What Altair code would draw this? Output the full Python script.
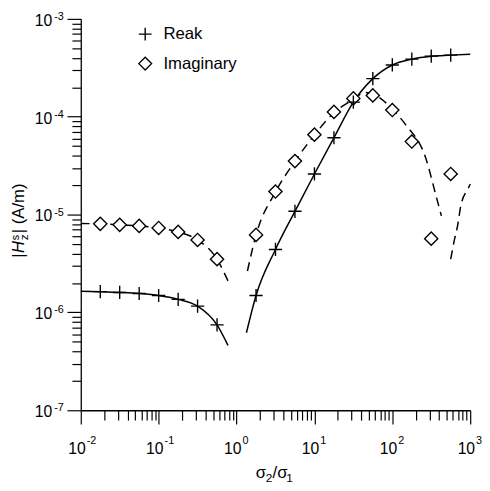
import altair as alt
import pandas as pd

FONT = "Liberation Sans"

# ---------------- data ----------------
# marker positions (sigma2/sigma1) and |Hz| values
real_low_x = [0.0178, 0.0316, 0.0562, 0.1, 0.178, 0.316, 0.562]
real_low_y = [1.63e-6, 1.60e-6, 1.56e-6, 1.49e-6, 1.36e-6, 1.16e-6, 7.45e-7]
real_high_x = [1.78, 3.16, 5.62, 10, 17.8, 31.6, 56.2, 100, 178, 316, 562]
real_high_y = [1.49e-6, 4.4e-6, 1.08e-5, 2.6e-5, 6.1e-5, 1.41e-4, 2.45e-4,
               3.38e-4, 3.88e-4, 4.16e-4, 4.26e-4]
imag_low_x = [0.0178, 0.0316, 0.0562, 0.1, 0.178, 0.316, 0.562]
imag_low_y = [8.04e-6, 7.85e-6, 7.66e-6, 7.3e-6, 6.65e-6, 5.5e-6, 3.5e-6]
imag_high_x = [1.78, 3.16, 5.62, 10, 17.8, 31.6, 56.2, 100, 178, 316, 562]
imag_high_y = [6.2e-6, 1.72e-5, 3.52e-5, 6.56e-5, 1.12e-4, 1.54e-4, 1.65e-4,
               1.17e-4, 5.58e-5, 5.67e-6, 2.6e-5]

# curves
real_low_line_x = [0.01, 0.0178, 0.0316, 0.0562, 0.1, 0.178, 0.316, 0.562, 0.776]
real_low_line_y = [1.65e-6, 1.63e-6, 1.60e-6, 1.56e-6, 1.49e-6, 1.36e-6, 1.16e-6, 7.45e-7, 4.6e-7]
real_high_line_x = [1.34, 1.78, 3.16, 5.62, 10, 17.8, 31.6, 56.2, 100, 178, 316, 562, 1000]
real_high_line_y = [6.2e-7, 1.49e-6, 4.4e-6, 1.08e-5, 2.6e-5, 6.1e-5, 1.41e-4, 2.45e-4,
                    3.38e-4, 3.88e-4, 4.16e-4, 4.26e-4, 4.36e-4]
imag_low_line_x = [0.01, 0.0178, 0.0316, 0.0562, 0.1, 0.178, 0.316, 0.562, 0.776]
imag_low_line_y = [8.1e-6, 8.04e-6, 7.85e-6, 7.66e-6, 7.3e-6, 6.65e-6, 5.5e-6, 3.5e-6, 2.1e-6]
imag_high1_line_x = [1.38, 1.78, 3.16, 5.62, 10, 17.8, 31.6, 44.7, 56.2, 100, 148, 269, 363, 427]
imag_high1_line_y = [2.65e-6, 6.2e-6, 1.7e-5, 3.5e-5, 6.5e-5, 1.1e-4, 1.5e-4, 1.77e-4,
                     1.7e-4, 1.2e-4, 8.3e-5, 3.77e-5, 1.57e-5, 9.7e-6]
imag_high2_line_x = [562, 617, 692, 759, 955, 1000]
imag_high2_line_y = [3.5e-6, 5.2e-6, 7.85e-6, 1.24e-5, 1.89e-5, 2.05e-5]

series_names = ["Reak", "Imaginary"]

# axis labels
x_major = [0.01, 0.1, 1, 10, 100, 1000]
x_exp = ["-2", "-1", "0", "1", "2", "3"]
y_major = [1e-7, 1e-6, 1e-5, 1e-4, 1e-3]
y_exp = ["-7", "-6", "-5", "-4", "-3"]

# ---------------- tables ----------------
def seg(xs, ys, name):
    return pd.DataFrame({"x": xs, "y": ys, "seg": name})

df_real_lines = pd.concat([seg(real_low_line_x, real_low_line_y, "a"),
                           seg(real_high_line_x, real_high_line_y, "b")])
df_imag_lines = pd.concat([seg(imag_low_line_x, imag_low_line_y, "a"),
                           seg(imag_high1_line_x, imag_high1_line_y, "b"),
                           seg(imag_high2_line_x, imag_high2_line_y, "c")])
df_pts = pd.concat([
    pd.DataFrame({"x": real_low_x + real_high_x, "y": real_low_y + real_high_y, "series": series_names[0]}),
    pd.DataFrame({"x": imag_low_x + imag_high_x, "y": imag_low_y + imag_high_y, "series": series_names[1]}),
])
df_imag_pts = pd.DataFrame({"x": imag_low_x + imag_high_x, "y": imag_low_y + imag_high_y})

x_ticks = [m * 10.0 ** e for e in range(-2, 3) for m in range(1, 10)] + [1000.0]
y_ticks = [m * 10.0 ** e for e in range(-7, -3) for m in range(1, 10)] + [1e-3]

major_test = "abs(log(datum.value)/LN10 - round(log(datum.value)/LN10)) < 0.01"

xscale = alt.Scale(type="log", domain=[0.01, 1000], nice=False)
yscale = alt.Scale(type="log", domain=[1e-7, 1e-3], nice=False)

xaxis = alt.Axis(values=x_ticks, labels=False, grid=False, title="",
                 domainColor="black", domainWidth=1.3, tickColor="black", tickWidth=1.2,
                 tickSize={"condition": {"test": major_test, "value": 14}, "value": 10})
yaxis = alt.Axis(values=y_ticks, labels=False, grid=False, title="",
                 domainColor="black", domainWidth=1.3, tickColor="black", tickWidth=1.2,
                 tickSize={"condition": {"test": major_test, "value": 14}, "value": 9})

X = lambda f: alt.X(f, scale=xscale, axis=xaxis)
Y = lambda f: alt.Y(f, scale=yscale, axis=yaxis)

real_lines = alt.Chart(df_real_lines).mark_line(
    color="black", strokeWidth=1.5, interpolate="monotone"
).encode(x=X("x:Q"), y=Y("y:Q"), detail="seg:N")

imag_lines = alt.Chart(df_imag_lines).mark_line(
    color="black", strokeWidth=1.5, interpolate="monotone", strokeDash=[9, 6]
).encode(x=X("x:Q"), y=Y("y:Q"), detail="seg:N")

# white interiors of the diamonds (hide the dashed line inside them)
diamond_fill = alt.Chart(df_imag_pts).mark_point(
    shape="diamond", filled=True, color="white", opacity=1, size=180
).encode(x=X("x:Q"), y=Y("y:Q"))

points = alt.Chart(df_pts).mark_point(
    filled=False, color="black", strokeWidth=1.4, opacity=1, size=180
).encode(
    x=X("x:Q"), y=Y("y:Q"),
    shape=alt.Shape(
        "series:N",
        scale=alt.Scale(domain=series_names, range=["M-1,0L1,0M0,-1L0,1", "diamond"]),
        legend=alt.Legend(orient="none", legendX=57, legendY=7, title=None,
                          labelFont=FONT, labelFontSize=17, labelColor="black",
                          symbolSize=169, symbolStrokeColor="black",
                          symbolStrokeWidth=1.4, rowPadding=11, labelOffset=10, padding=0),
    ),
)

df_xl = pd.DataFrame({"v": x_major, "e": x_exp})
df_yl = pd.DataFrame({"v": y_major, "e": y_exp})

x_ten = alt.Chart(df_xl).mark_text(
    align="right", baseline="alphabetic", dx=5, font=FONT, fontSize=16, color="black", text="10"
).encode(x=X("v:Q"), y=alt.value(442))
x_pow = alt.Chart(df_xl).mark_text(
    align="left", baseline="alphabetic", dx=6, font=FONT, fontSize=11, color="black"
).encode(x=X("v:Q"), y=alt.value(432), text="e:N")

y_ten = alt.Chart(df_yl).mark_text(
    align="right", baseline="alphabetic", dy=7, font=FONT, fontSize=16, color="black", text="10"
).encode(x=alt.value(-29), y=Y("v:Q"))
y_pow = alt.Chart(df_yl).mark_text(
    align="left", baseline="alphabetic", dy=1, font=FONT, fontSize=11, color="black"
).encode(x=alt.value(-27), y=Y("v:Q"), text="e:N")

one = pd.DataFrame({"k": [0]})

def piece(txt, px, py, size, angle=0, style="normal"):
    kw = dict(align="left", baseline="alphabetic", font=FONT, fontSize=size,
              color="black", text=txt, fontStyle=style)
    if angle:
        kw["angle"] = angle
    return alt.Chart(one).mark_text(**kw).encode(x=alt.value(px), y=alt.value(py))

# y title |H_z^s| (A/m), rotated
ytitle = [
    piece("|", -58, 243, 17, 270),
    piece("H", -58, 238, 17, 270, "italic"),
    piece("z", -54, 225, 12, 270),
    piece("s", -63, 225, 11, 270),
    piece("| (A/m)", -58, 218, 17, 270),
]
# x title sigma2/sigma1
xtitle = [
    piece("σ", 178, 467, 17),
    piece("2", 188, 471, 12),
    piece("/σ", 195, 467, 17),
    piece("1", 209, 471, 12),
]

chart = alt.layer(
    real_lines, imag_lines, diamond_fill, points, x_ten, x_pow, y_ten, y_pow, *ytitle, *xtitle
).properties(
    width=396, height=398,
    autosize=alt.AutoSizeParams(type="none"),
    padding={"left": 74, "top": 7, "right": 12, "bottom": 76},
    background="white",
).configure_view(stroke="transparent")

chart.save("out.html", embed_options={"renderer": "svg", "actions": False})
